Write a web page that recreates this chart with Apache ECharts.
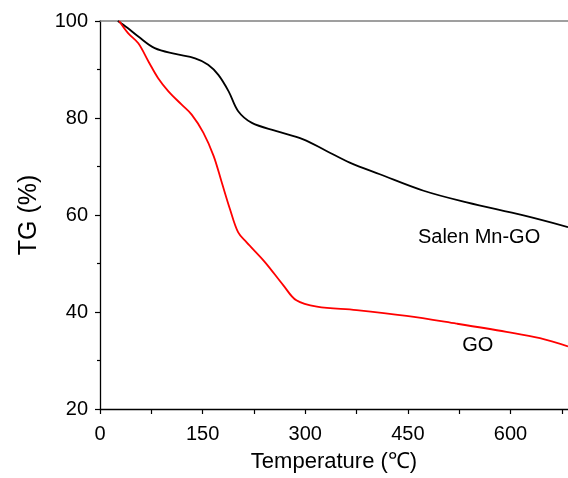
<!DOCTYPE html>
<html>
<head>
<meta charset="utf-8">
<script src="https://cdn.jsdelivr.net/npm/echarts@6/dist/echarts.min.js"></script>
<style>html,body{margin:0;padding:0;background:#fff}#c{width:568px;height:478px}</style>
</head>
<body>
<div id="c"></div>
<script>
// Data
const salenTemp = [26, 40, 56, 80, 110, 139, 158, 173, 188, 202, 222, 258, 297, 331, 365, 409, 473, 536, 619, 684];
const salenTG   = [100, 98.6, 96.8, 94.4, 93.2, 92.3, 91, 88.9, 85.5, 81.4, 79, 77.3, 75.6, 73.2, 70.8, 68.4, 65, 62.6, 59.9, 57.5];
const goTemp = [28, 41, 56, 71, 85, 100, 119, 134, 151, 166, 178, 190, 202, 214, 241, 268, 287, 317, 375, 448, 521, 594, 643, 684];
const goTG   = [100, 97.5, 95.4, 91.6, 88.2, 85.5, 82.8, 80.7, 77, 72.2, 66.7, 61.2, 56.4, 54.4, 50.3, 45.5, 42.4, 41.1, 40.4, 39.2, 37.6, 35.9, 34.6, 32.9];
const xTicks = [0, 150, 300, 450, 600];
const xMinorTicks = [75, 225, 375, 525, 675];
const yTicks = [20, 40, 60, 80, 100];
const seriesNames = ['Salen Mn-GO', 'GO'];
const labelAt = [[554, 55.4], [552, 33.0]];

const zip = (a, b) => a.map((v, i) => [v, b[i]]);
const chart = echarts.init(document.getElementById('c'), null, {renderer: 'canvas'});
const font = 'Liberation Sans, Arial, sans-serif';
const mkLabel = (i) => ({
  symbol: 'rect', symbolSize: 0,
  label: {show: true, position: 'inside', formatter: seriesNames[i], fontFamily: font, fontSize: 20, color: '#000'},
  data: [{coord: labelAt[i]}]
});
chart.setOption({
  animation: false,
  grid: {left: 100, top: 21, right: 0, bottom: 67, containLabel: false},
  xAxis: [{
    type: 'value', min: 0, max: 684, position: 'bottom',
    name: 'Temperature ({s|℃})', nameLocation: 'middle', nameGap: 42,
    nameTextStyle: {fontFamily: font, fontSize: 22, color: '#000', rich: {s: {fontFamily: 'Liberation Serif, Times New Roman, serif', fontSize: 22, color: '#000'}}},
    axisLine: {show: true, lineStyle: {color: '#000', width: 1.3}},
    axisTick: {show: true, customValues: xTicks.concat(xMinorTicks).sort((a,b)=>a-b), length: 5, lineStyle: {color: '#000', width: 1.2}},
    axisLabel: {customValues: xTicks, fontFamily: font, fontSize: 20, color: '#000', margin: 15},
    splitLine: {show: false}
  }, {
    type: 'value', min: 0, max: 684, position: 'top',
    axisLine: {show: true, lineStyle: {color: '#808080', width: 1.5}},
    axisTick: {show: false}, axisLabel: {show: false}, splitLine: {show: false}
  }],
  yAxis: {
    type: 'value', min: 20, max: 100, interval: 20,
    name: 'TG (%)', nameLocation: 'middle', nameGap: 58,
    nameTextStyle: {fontFamily: font, fontSize: 25, color: '#000'},
    axisLine: {show: true, lineStyle: {color: '#000', width: 1.3}},
    axisTick: {show: true, length: 5, lineStyle: {color: '#000', width: 1.2}},
    minorTick: {show: true, splitNumber: 2, length: 3, lineStyle: {color: '#000', width: 1.2}},
    axisLabel: {customValues: yTicks, fontFamily: font, fontSize: 20, color: '#000', margin: 12},
    splitLine: {show: false}
  },
  series: [{
    name: seriesNames[0], type: 'line', smooth: 0.35, symbol: 'none', clip: true,
    lineStyle: {color: '#000', width: 1.8}, data: zip(salenTemp, salenTG),
    markPoint: mkLabel(0)
  }, {
    name: seriesNames[1], type: 'line', smooth: 0.35, symbol: 'none', clip: true,
    lineStyle: {color: '#ff0000', width: 1.8}, data: zip(goTemp, goTG),
    markPoint: mkLabel(1)
  }]
});
</script>
</body>
</html>
